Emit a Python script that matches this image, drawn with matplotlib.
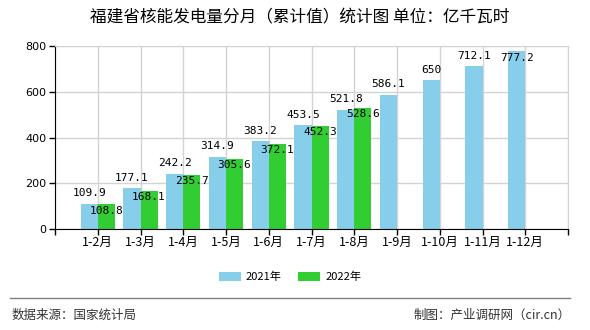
import matplotlib
matplotlib.use("Agg")
import matplotlib.pyplot as plt
from matplotlib.patches import Patch
from matplotlib.lines import Line2D
import numpy as np

plt.rcParams['font.family'] = ['Noto Sans CJK SC', 'DejaVu Sans']

categories = ["1-2月", "1-3月", "1-4月", "1-5月", "1-6月", "1-7月",
              "1-8月", "1-9月", "1-10月", "1-11月", "1-12月"]
values_2021 = [109.9, 177.1, 242.2, 314.9, 383.2, 453.5, 521.8, 586.1, 650, 712.1, 777.2]
values_2022 = [108.8, 168.1, 235.7, 305.6, 372.1, 452.3, 528.6]
label_2021 = ["109.9", "177.1", "242.2", "314.9", "383.2", "453.5", "521.8",
              "586.1", "650", "712.1", "777.2"]
label_2022 = ["108.8", "168.1", "235.7", "305.6", "372.1", "452.3", "528.6"]
yticks = [0, 200, 400, 600, 800]

blue = "#87CEEB"
green = "#32CD32"

fig = plt.figure(figsize=(5.9, 3.3), dpi=100)
ax = fig.add_axes([55 / 590, 1 - 229 / 330, 513 / 590, 183 / 330])

x = np.arange(1, len(categories) + 1)
w = 0.40
ax.bar(x[:len(values_2021)] - w / 2, values_2021, width=w, color=blue, zorder=2)
ax.bar(x[:len(values_2022)] + w / 2, values_2022, width=w, color=green, zorder=2)

ymax = 800
mono = ['DejaVu Sans Mono']
for xi, v, s in zip(x, values_2021, label_2021):
    if v > ymax * 0.93:
        # no room above the bar: put the value just inside its top
        ax.annotate(s, (xi - w / 2, v), xytext=(0, -1), textcoords="offset points",
                    ha="center", va="top", fontsize=8, family=mono, zorder=3)
    else:
        ax.annotate(s, (xi - w / 2, v), xytext=(0, 4), textcoords="offset points",
                    ha="center", va="bottom", fontsize=8, family=mono, zorder=3)
for xi, v, s in zip(x, values_2022, label_2022):
    ax.annotate(s, (xi + w / 2, v), xytext=(0, -1), textcoords="offset points",
                ha="center", va="top", fontsize=8, family=mono, zorder=3)

ax.set_xlim(0, len(categories) + 1)
ax.set_ylim(0, ymax)
ax.set_yticks(yticks)
ax.set_yticklabels([str(t) for t in yticks], fontsize=8, family=['DejaVu Sans'])
ax.set_xticks(np.arange(0, len(categories) + 2))
ax.set_xticklabels([""] + categories + [""], fontsize=9)
ax.tick_params(axis="both", length=4, width=1, color="black", pad=2)
ax.tick_params(axis="x", direction="out", pad=1)

ax.grid(True, color="#d3d3d3", linewidth=1, zorder=0)
ax.set_axisbelow(True)
for side in ("top", "right"):
    ax.spines[side].set_color("#d3d3d3")
ax.spines["left"].set_color("black")
ax.spines["bottom"].set_color("black")
ax.spines["bottom"].set_zorder(4)

fig.text(300 / 590, 1 - 18 / 330, "福建省核能发电量分月（累计值）统计图 单位：亿千瓦时",
         ha="center", va="center", fontsize=12)

handles = [Patch(facecolor=blue, edgecolor="none"), Patch(facecolor=green, edgecolor="none")]
fig.legend(handles, ["2021年", "2022年"], loc="center", bbox_to_anchor=(290 / 590, 1 - 277 / 330),
           ncol=2, frameon=False, fontsize=8, handlelength=2.0, handleheight=0.8,
           columnspacing=1.45, handletextpad=0.45, borderpad=0)

fig.add_artist(Line2D([10 / 590, 570 / 590], [1 - 298 / 330, 1 - 298 / 330],
                      color="#808080", linewidth=1, transform=fig.transFigure))
fig.text(12 / 590, 1 - 315 / 330, "数据来源：国家统计局", ha="left", va="center",
         fontsize=9, color="#333333")
fig.text(571 / 590, 1 - 315 / 330, "制图：产业调研网（cir.cn）", ha="right", va="center",
         fontsize=9, color="#333333")

fig.savefig("out.png", dpi=100)
